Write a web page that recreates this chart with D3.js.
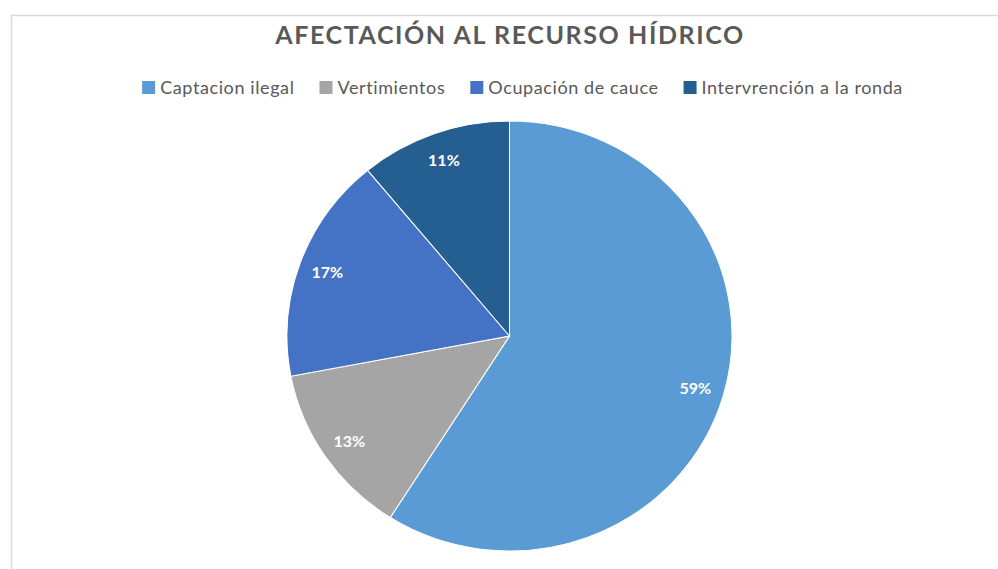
<!DOCTYPE html>
<html>
<head>
<meta charset="utf-8">
<script src="https://cdnjs.cloudflare.com/ajax/libs/d3/7.8.5/d3.min.js"></script>
<style>
    body { margin: 0; background: #fff; }
    text { font-family: Lato, "Open Sans", sans-serif; }
</style>
</head>
<body>
<div id="chart"></div>
<script>
// data
var categories = ["Captacion ilegal", "Vertimientos", "Ocupación de cauce", "Intervrención a la ronda"];
var percents = [59, 13, 17, 11];
var colors = ["#5B9BD5", "#A5A5A5", "#4472C4", "#255E91"];
var title = "AFECTACIÓN AL RECURSO HÍDRICO";

var width = 998, height = 569;

var svg = d3.select("#chart").append("svg")
    .attr("width", width)
    .attr("height", height);

// chart frame (only top and left edges visible)
svg.append("path")
    .attr("d", "M11.5," + height + "V15.5H" + width)
    .attr("fill", "none")
    .attr("stroke", "#d9d9d9")
    .attr("stroke-width", 1.5);

// title
svg.append("text")
    .attr("x", 510)
    .attr("y", 44)
    .attr("text-anchor", "middle")
    .style("font-size", "25px")
    .style("font-weight", "700")
    .style("letter-spacing", "1.6px")
    .style("fill", "#595959")
    .text(title);

// legend
var legend = svg.append("g").attr("class", "legend");
var item = legend.selectAll("g")
    .data(categories)
    .enter().append("g");

item.append("rect")
    .attr("width", 13)
    .attr("height", 13)
    .attr("y", -13)
    .style("fill", function(d, i) { return colors[i]; });

item.append("text")
    .attr("x", 18)
    .attr("y", -0.5)
    .style("font-size", "18px")
    .style("letter-spacing", "0.6px")
    .style("fill", "#595959")
    .text(function(d) { return d; });

// lay the legend items out in a row and center it
var gap = 25;
var xPos = 0;
item.each(function() {
    d3.select(this).attr("transform", "translate(" + xPos + ",0)");
    xPos += this.getBBox().width + gap;
});
xPos -= gap;
legend.attr("transform", "translate(" + (522.5 - xPos / 2) + ",94)");

// pie (slightly wider than tall, like the original)
var radius = 215, stretch = 1.035;
var pie = d3.pie().sort(null).value(function(d) { return d; });
var arc = d3.arc().innerRadius(0).outerRadius(radius);
var labelArc = d3.arc().innerRadius(radius * 0.87).outerRadius(radius * 0.87);

var pieG = svg.append("g")
    .attr("transform", "translate(509.5,336) scale(" + stretch + ",1)");

pieG.selectAll("path")
    .data(pie(percents))
    .enter().append("path")
    .attr("d", arc)
    .style("fill", function(d, i) { return colors[i]; })
    .style("stroke", "#fff")
    .style("stroke-width", 1);

// data labels
svg.append("g")
    .attr("transform", "translate(509.5,336)")
    .selectAll("text")
    .data(pie(percents))
    .enter().append("text")
    .attr("x", function(d) { return labelArc.centroid(d)[0] * stretch; })
    .attr("y", function(d) { return labelArc.centroid(d)[1]; })
    .attr("dy", "0.35em")
    .attr("text-anchor", "middle")
    .style("font-size", "16px")
    .style("font-weight", "700")
    .style("fill", "#fff")
    .text(function(d) { return d.data + "%"; });
</script>
</body>
</html>
